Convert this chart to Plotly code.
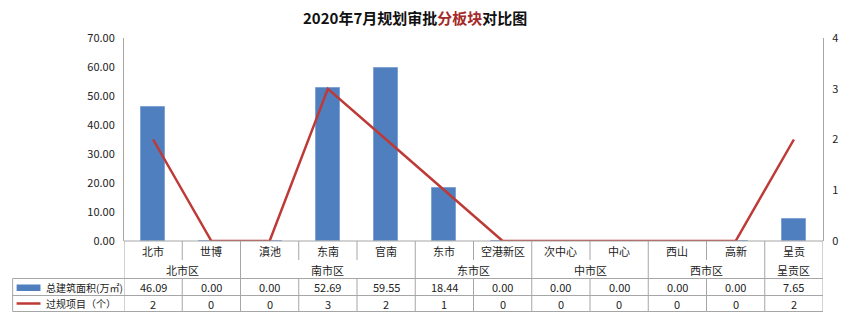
import plotly.graph_objects as go

categories = ["北市", "世博", "滇池", "东南", "官南", "东市", "空港新区", "次中心", "中心", "西山", "高新", "呈贡"]
groups = ["北市区", "北市区", "南市区", "南市区", "南市区", "东市区", "东市区", "中市区", "中市区", "西市区", "西市区", "呈贡区"]
area = [46.09, 0.00, 0.00, 52.69, 59.55, 18.44, 0.00, 0.00, 0.00, 0.00, 0.00, 7.65]
projects = [2, 0, 0, 3, 2, 1, 0, 0, 0, 0, 0, 2]
series_names = ["总建筑面积(万㎡)", "过规项目（个）"]
left_ticks = [0, 10, 20, 30, 40, 50, 60, 70]
right_ticks = [0, 1, 2, 3, 4]

W, H = 850, 325
L, R, T, B = 124, 23, 38, 84
PW, PH = W - L - R, H - T - B
FONT = "Noto Sans CJK SC"
BLUE = "#4F7FBF"
RED = "#BE3A36"
GRID = "#A6A6A6"

def py(p):  # pixel y -> paper y
    return (H - B - p) / PH

def px(p):  # pixel x -> paper x
    return (p - L) / PW

xs = list(range(len(categories)))

fig = go.Figure()
fig.add_trace(go.Bar(x=xs, y=area, marker=dict(color=BLUE, line=dict(color="#7FA3D3", width=1)),
                     width=0.41, name=series_names[0], yaxis="y", showlegend=False))
fig.add_trace(go.Scatter(x=xs, y=projects, mode="lines", line=dict(color=RED, width=2.5),
                         name=series_names[1], yaxis="y2", showlegend=False))

shapes = []
ann = []

y_top, y_cat, y_grp, y_r1, y_r2 = 241, 260, 278.5, 295.5, 311.5

def hline(x0, x1, yp, xref="paper"):
    shapes.append(dict(type="line", xref=xref, yref="paper", x0=x0, x1=x1, y0=py(yp), y1=py(yp),
                       line=dict(color=GRID, width=1)))

def vline(x, y0p, y1p, xref="x"):
    shapes.append(dict(type="line", xref=xref, yref="paper", x0=x, x1=x, y0=py(y0p), y1=py(y1p),
                       line=dict(color=GRID, width=1)))

hline(0, 1, y_top)
hline(px(12), 1, y_grp)
hline(px(12), 1, y_r1)
hline(px(12), 1, y_r2)
vline(px(12), y_grp, y_r2, xref="paper")

n = len(categories)
for i in range(n + 1):
    b = i - 0.5
    if i == 0 or i == n or groups[i - 1] != groups[i]:
        vline(b, y_top, y_r2)
    else:
        vline(b, y_top, y_cat)
        vline(b, y_grp, y_r2)

tf = dict(family=FONT, size=11, color="#222")

def text(x, yp, s, xref="x", xanchor="center", font=tf):
    ann.append(dict(x=x, y=py(yp), xref=xref, yref="paper", text=s, showarrow=False,
                    xanchor=xanchor, yanchor="middle", font=font))

for i, c in enumerate(categories):
    text(i, 250.5, c)
    text(i, 287, f"{area[i]:.2f}")
    text(i, 303.5, str(projects[i]))

i = 0
while i < n:
    j = i
    while j + 1 < n and groups[j + 1] == groups[i]:
        j += 1
    text((i + j) / 2, 269.5, groups[i])
    i = j + 1

shapes.append(dict(type="rect", xref="paper", yref="paper", x0=px(16), x1=px(40), y0=py(291), y1=py(284.5),
                   fillcolor=BLUE, line=dict(width=0)))
shapes.append(dict(type="line", xref="paper", yref="paper", x0=px(16), x1=px(40), y0=py(303.5), y1=py(303.5),
                   line=dict(color=RED, width=2.5)))
lf = dict(family=FONT, size=10, color="#222")
text(px(44), 287, series_names[0], xref="paper", xanchor="left", font=lf)
text(px(44), 303.5, series_names[1], xref="paper", xanchor="left", font=lf)

text(px(417), 17, "<b>2020年7月规划审批<span style='color:#A52A2A'>分板块</span>对比图</b>",
     xref="paper", font=dict(family=FONT, size=15, color="#111"))

fig.update_layout(
    width=W, height=H,
    margin=dict(l=L, r=R, t=T, b=B, pad=0),
    plot_bgcolor="white", paper_bgcolor="white",
    bargap=0,
    xaxis=dict(range=[-0.5, n - 0.5], showticklabels=False, showgrid=False, zeroline=False,
               showline=False, ticks=""),
    yaxis=dict(range=[0, 70], tickvals=left_ticks, ticktext=[f"{v:.2f}" for v in left_ticks],
               showgrid=False, zeroline=False, showline=True, linecolor=GRID, linewidth=1,
               ticks="", tickfont=dict(family=FONT, size=11, color="#222"), ticklabelstandoff=6),
    yaxis2=dict(range=[0, 4], tickvals=right_ticks, overlaying="y", side="right",
                showgrid=False, zeroline=False, showline=True, linecolor=GRID, linewidth=1,
                ticks="", tickfont=dict(family=FONT, size=11, color="#222"), ticklabelstandoff=6),
    shapes=shapes,
    annotations=ann,
    showlegend=False,
)

fig.write_html("out.html")
